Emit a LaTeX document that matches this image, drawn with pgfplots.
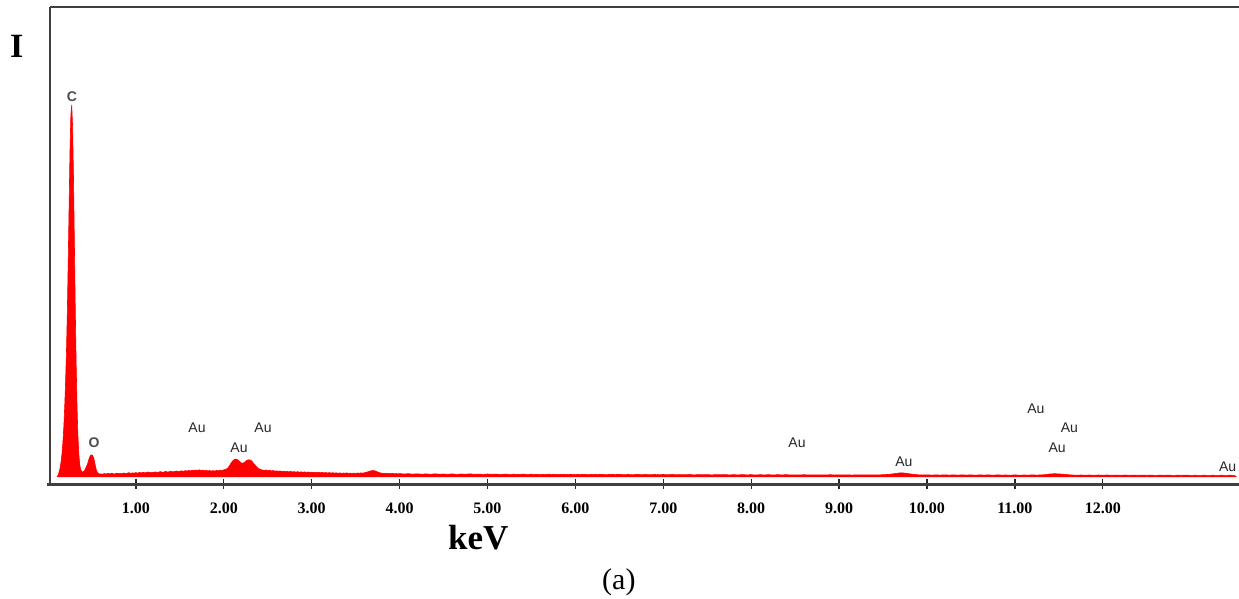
\documentclass[border=0pt]{standalone}
\usepackage{fontspec}
\setmainfont{Liberation Serif}
\newfontfamily\arialfont{Liberation Sans}
\usepackage{pgfplots}
\pgfplotsset{compat=1.18}
\begin{document}
\begin{tikzpicture}
\useasboundingbox (0pt,0pt) rectangle (1239pt,-599pt);
\begin{axis}[
  at={(48pt,-484pt)}, anchor=south west,
  scale only axis, width=1191pt, height=477pt,
  xmin=0, xmax=13.55, ymin=-7, ymax=470,
  axis line style={draw=none},
  xtick={1,2,3,4,5,6,7,8,9,10,11,12},
  xticklabels={1.00,2.00,3.00,4.00,5.00,6.00,7.00,8.00,9.00,10.00,11.00,12.00},
  xtick pos=left,
  ytick=\empty,
  tick align=center,
  major tick length=10pt,
  tick style={line width=1.3pt, black!85},
  xticklabel style={anchor=base, yshift=-24pt, font=\fontsize{16}{16}\selectfont\bfseries},
  clip=false,
]
\addplot[draw=red, fill=red, line width=0.6pt] coordinates {
(0.10,0) (0.11,1) (0.12,3) (0.13,6) (0.14,10) (0.15,16) (0.16,24) (0.17,35) (0.18,50) (0.19,70)
(0.20,95) (0.21,125) (0.22,165) (0.23,215) (0.24,270) (0.25,325) (0.26,362) (0.27,372) (0.28,350) (0.29,300)
(0.30,235) (0.31,170) (0.32,115) (0.33,72) (0.34,42) (0.35,24) (0.36,13) (0.37,8) (0.38,6) (0.39,5)
(0.40,5) (0.41,6) (0.42,7) (0.43,9) (0.44,11) (0.45,13) (0.46,16) (0.47,19) (0.48,21) (0.49,22)
(0.50,22) (0.51,21) (0.52,19) (0.53,15) (0.54,11) (0.55,7) (0.56,5) (0.57,4) (0.58,3)
(0.60,3.2) (0.62,2.8) (0.64,3.5) (0.66,3.0) (0.68,3.6) (0.70,3.1) (0.72,3.8) (0.74,3.3) (0.76,3.0) (0.78,3.9)
(0.80,3.4) (0.82,3.7) (0.84,3.2) (0.86,4.0) (0.88,3.5) (0.90,3.8) (0.92,4.3) (0.94,3.6) (0.96,4.1) (0.98,3.9)
(1.00,4.4) (1.02,3.8) (1.04,4.6) (1.06,4.1) (1.08,4.8) (1.10,4.2) (1.12,4.5) (1.14,5.0) (1.16,4.3) (1.18,4.7)
(1.20,4.4) (1.22,5.1) (1.24,4.6) (1.26,4.9) (1.28,5.4) (1.30,4.7) (1.32,5.0) (1.34,5.6) (1.36,4.9) (1.38,5.3)
(1.40,5.8) (1.42,5.1) (1.44,5.5) (1.46,6.0) (1.48,5.4) (1.50,5.7) (1.52,6.2) (1.54,5.6) (1.56,6.4) (1.58,5.9)
(1.60,6.6) (1.62,6.1) (1.64,6.8) (1.66,6.3) (1.68,7.0) (1.70,6.5) (1.72,7.2) (1.74,6.6) (1.76,6.9) (1.78,6.3)
(1.80,6.7) (1.82,6.1) (1.84,6.5) (1.86,5.9) (1.88,6.4) (1.90,6.0) (1.92,6.6) (1.94,6.2) (1.96,6.9) (1.98,6.5)
(2.00,7.2) (2.02,7.6) (2.04,8.5) (2.06,10.5) (2.08,13.5) (2.10,16.0) (2.12,17.5) (2.14,18.0) (2.16,17.0) (2.18,15.5)
(2.20,14.0) (2.22,13.8) (2.24,15.0) (2.26,16.5) (2.28,17.2) (2.30,17.0) (2.32,15.8) (2.34,13.5) (2.36,11.5) (2.38,9.5)
(2.40,8.2) (2.42,7.4) (2.44,7.0) (2.46,6.6) (2.48,7.1) (2.50,6.3) (2.52,6.8) (2.54,6.0) (2.56,6.5) (2.58,5.8)
(2.60,6.2) (2.62,5.6) (2.64,6.1) (2.66,5.4) (2.68,5.9) (2.70,5.3) (2.72,5.7) (2.74,5.1) (2.76,5.6) (2.78,5.0)
(2.80,5.4) (2.82,4.9) (2.84,5.3) (2.86,4.8) (2.88,5.2) (2.90,4.7) (2.92,5.1) (2.94,4.6) (2.96,5.0) (2.98,4.5)
(3.00,4.9) (3.02,4.4) (3.04,4.8) (3.06,4.3) (3.08,4.7) (3.10,4.2) (3.12,4.6) (3.14,4.1) (3.16,4.5) (3.18,4.0)
(3.20,4.4) (3.22,3.9) (3.24,4.3) (3.26,3.8) (3.28,4.2) (3.30,3.7) (3.32,4.1) (3.34,3.6) (3.36,4.0) (3.38,3.7)
(3.40,4.1) (3.42,3.6) (3.44,3.9) (3.46,3.5) (3.48,3.9) (3.50,3.6) (3.52,4.0) (3.54,3.7) (3.56,4.1) (3.58,3.8)
(3.60,4.3) (3.62,4.6) (3.64,5.2) (3.66,5.8) (3.68,6.3) (3.70,6.5) (3.72,6.1) (3.74,5.4) (3.76,4.7) (3.78,4.1)
(3.80,3.8) (3.82,3.5) (3.84,3.8) (3.86,3.4) (3.88,3.7) (3.90,3.3) (3.92,3.6) (3.94,3.2) (3.96,3.5) (3.98,3.1)
(4.00,3.4) (4.05,3.0) (4.10,3.3) (4.15,2.9) (4.20,3.2) (4.25,2.8) (4.30,3.1) (4.35,2.7) (4.40,3.2) (4.45,2.8)
(4.50,3.0) (4.55,2.7) (4.60,3.1) (4.65,2.6) (4.70,3.0) (4.75,2.8) (4.80,3.1) (4.85,2.7) (4.90,2.9) (4.95,2.6)
(5.00,3.0) (5.05,2.7) (5.10,2.9) (5.15,2.5) (5.20,2.9) (5.25,2.6) (5.30,2.8) (5.35,2.5) (5.40,2.9) (5.45,2.6)
(5.50,2.8) (5.55,2.5) (5.60,2.7) (5.65,2.4) (5.70,2.8) (5.75,2.5) (5.80,2.7) (5.85,2.4) (5.90,2.7) (5.95,2.5)
(6.00,2.7) (6.05,2.4) (6.10,2.6) (6.15,2.3) (6.20,2.7) (6.25,2.4) (6.30,2.6) (6.35,2.3) (6.40,2.6) (6.45,2.4)
(6.50,2.6) (6.55,2.3) (6.60,2.5) (6.65,2.2) (6.70,2.6) (6.75,2.3) (6.80,2.5) (6.85,2.2) (6.90,2.5) (6.95,2.3)
(7.00,2.5) (7.05,2.2) (7.10,2.5) (7.15,2.2) (7.20,2.4) (7.25,2.2) (7.30,2.5) (7.35,2.1) (7.40,2.4) (7.45,2.2)
(7.50,2.4) (7.55,2.1) (7.60,2.4) (7.65,2.2) (7.70,2.4) (7.75,2.1) (7.80,2.3) (7.85,2.1) (7.90,2.4) (7.95,2.1)
(8.00,2.3) (8.05,2.0) (8.10,2.3) (8.15,2.1) (8.20,2.3) (8.25,2.0) (8.30,2.3) (8.35,2.1) (8.40,2.3) (8.45,2.0)
(8.50,2.2) (8.55,2.0) (8.60,2.3) (8.65,2.0) (8.70,2.2) (8.75,2.0) (8.80,2.2) (8.85,2.0) (8.90,2.3) (8.95,2.0)
(9.00,2.2) (9.05,2.0) (9.10,2.2) (9.15,1.9) (9.20,2.2) (9.25,2.0) (9.30,2.2) (9.35,2.0) (9.40,2.2) (9.45,2.1)
(9.50,2.3) (9.55,2.5) (9.60,3.0) (9.65,3.6) (9.70,4.2) (9.75,3.9) (9.80,3.2) (9.85,2.6) (9.90,2.2) (9.95,2.0)
(10.00,2.2) (10.05,1.9) (10.10,2.1) (10.15,1.9) (10.20,2.2) (10.25,1.9) (10.30,2.1) (10.35,1.9) (10.40,2.1) (10.45,1.9)
(10.50,2.1) (10.55,1.8) (10.60,2.1) (10.65,1.9) (10.70,2.1) (10.75,1.8) (10.80,2.1) (10.85,1.9) (10.90,2.0) (10.95,1.8)
(11.00,2.1) (11.05,1.8) (11.10,2.0) (11.15,1.9) (11.20,2.1) (11.25,1.9) (11.30,2.1) (11.35,2.4) (11.40,3.0) (11.45,3.3)
(11.50,3.1) (11.55,2.8) (11.60,2.3) (11.65,2.0) (11.70,1.8) (11.75,2.0) (11.80,1.8) (11.85,2.0) (11.90,1.7) (11.95,2.0)
(12.00,1.8) (12.05,2.0) (12.10,1.7) (12.15,1.9) (12.20,1.7) (12.25,2.0) (12.30,1.7) (12.35,1.9) (12.40,1.7) (12.45,1.9)
(12.50,1.7) (12.55,1.9) (12.60,1.6) (12.65,1.9) (12.70,1.7) (12.75,1.9) (12.80,1.6) (12.85,1.8) (12.90,1.7) (12.95,1.9)
(13.00,1.6) (13.05,1.8) (13.10,1.6) (13.15,1.8) (13.20,1.6) (13.25,1.8) (13.30,1.6) (13.35,1.8) (13.40,1.6) (13.45,1.8)
(13.50,1.6) (13.52,0)
};
\begin{scope}[every node/.style={font=\arialfont\fontsize{14}{14}\selectfont, text=black!85, inner sep=0pt}]
\node[font=\arialfont\bfseries\fontsize{14}{14}\selectfont, text=black!70] at (axis cs:0.273,380) {C};
\node[font=\arialfont\bfseries\fontsize{14}{14}\selectfont, text=black!70] at (axis cs:0.523,34) {O};
\node at (axis cs:1.695,49) {Au};
\node at (axis cs:2.173,29) {Au};
\node at (axis cs:2.446,49) {Au};
\node at (axis cs:8.521,34) {Au};
\node at (axis cs:9.738,15) {Au};
\node at (axis cs:11.24,68) {Au};
\node at (axis cs:11.62,49) {Au};
\node at (axis cs:11.48,29) {Au};
\node at (axis cs:13.42,10) {Au};
\end{scope}
\end{axis}
% frame
\draw[line width=2.2pt, black!75] (50pt,-7pt) -- (1239pt,-7pt);
\draw[line width=2pt, black!75] (50pt,-7pt) -- (50pt,-483pt);
\draw[line width=3pt, black!75] (47pt,-484.5pt) -- (1239pt,-484.5pt);
% texts
\node[anchor=base west, inner sep=0pt, font=\fontsize{34}{34}\selectfont\bfseries] at (10pt,-58pt) {I};
\node[anchor=base west, inner sep=0pt, font=\fontsize{35}{35}\selectfont\bfseries] at (448pt,-549pt) {keV};
\node[anchor=base west, inner sep=0pt, font=\fontsize{30}{30}\selectfont] at (602pt,-589pt) {(a)};
\end{tikzpicture}
\end{document}
